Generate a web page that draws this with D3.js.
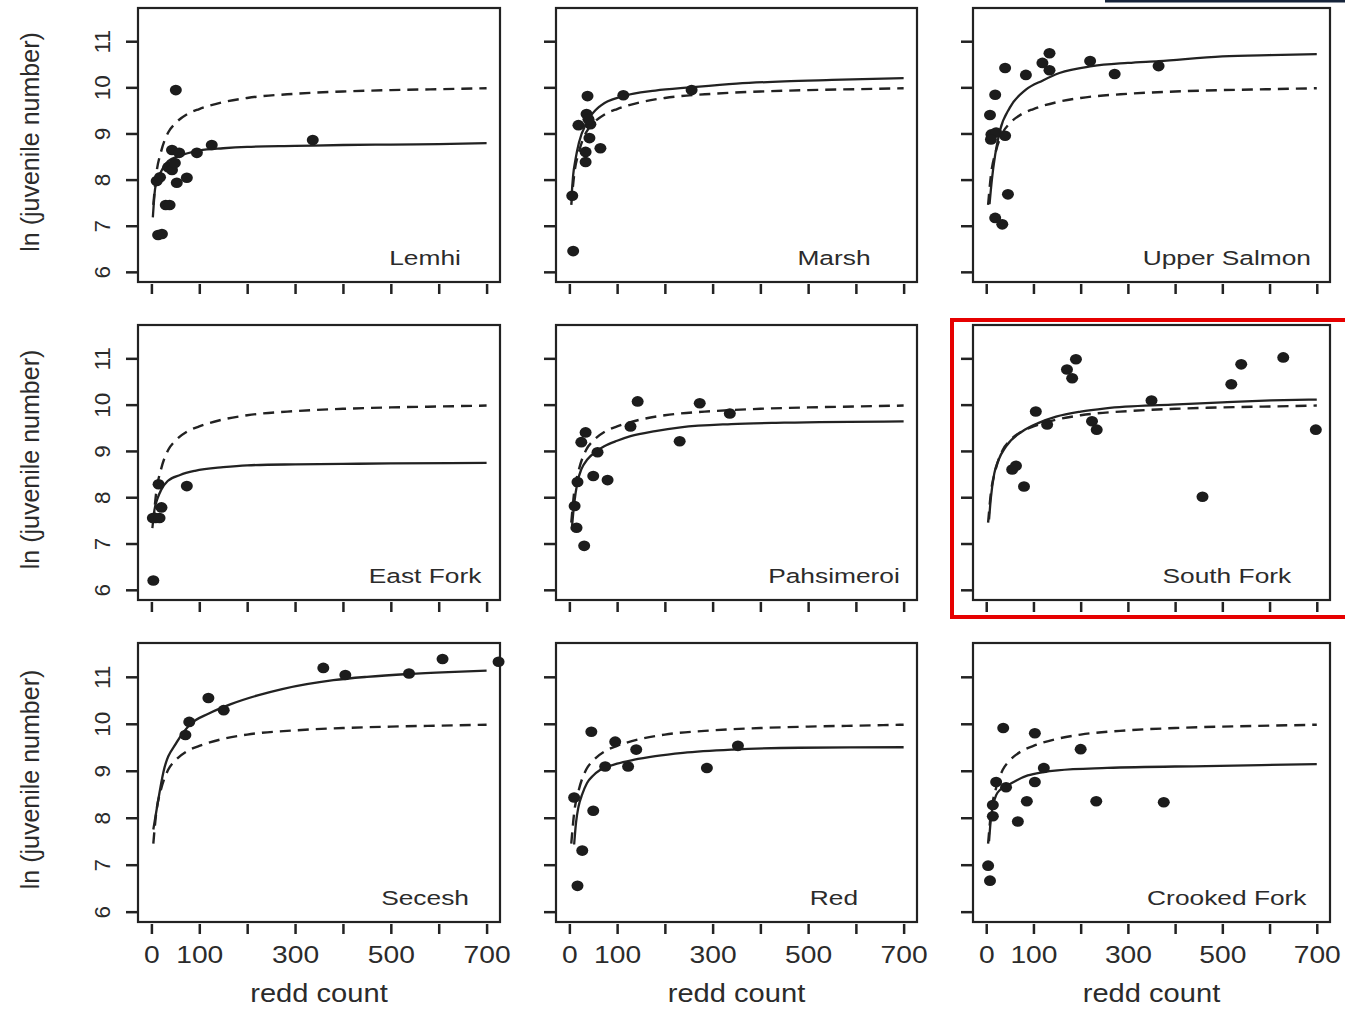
<!DOCTYPE html>
<html><head><meta charset="utf-8">
<script src="https://cdn.jsdelivr.net/npm/d3@7"></script>
<style>body{margin:0;background:#fff}svg text{font-family:"Liberation Sans",Arial,Helvetica,sans-serif;fill:#2b2b2b}</style>
</head><body><svg id="chart" width="1345" height="1009"></svg>
<script>
// ---- data ----
const rivers = ["Lemhi","Marsh","Upper Salmon","East Fork","Pahsimeroi","South Fork","Secesh","Red","Crooked Fork"];
const xTicks = [0,100,200,300,400,500,600,700];
const xTickLabels = [0,100,300,500,700];
const yTicks = [6,7,8,9,10,11];
const xTitle = "redd count";
const yTitle = "ln (juvenile number)";

const lemhiPts = [[11,7.97],[18,8.05],[14,6.8],[22,6.82],[30,7.45],[38,7.45],[35,8.27],[43,8.21],[43,8.64],[49,8.36],[53,7.93],[58,8.58],[74,8.04],[95,8.58],[126,8.75],[51,9.94],[337,8.86]];
const marshPts = [[6,7.65],[8,6.45],[38,9.81],[113,9.83],[256,9.94],[19,9.18],[36,9.42],[44,9.2],[40,9.31],[42,8.9],[65,8.68],[34,8.6],[34,8.38]];
const upperSalmonPts = [[8,9.4],[19,9.84],[40,10.42],[84,10.27],[119,10.53],[134,10.74],[134,10.37],[220,10.57],[272,10.29],[365,10.46],[11,8.98],[21,9.02],[40,8.95],[10,8.87],[46,7.68],[19,7.17],[34,7.03]];
const eastForkPts = [[4,6.2],[3,7.55],[9,7.55],[17,7.55],[21,7.78],[15,8.28],[74,8.24]];
const pahsimeroiPts = [[11,7.81],[15,7.34],[31,6.95],[17,8.33],[25,9.19],[34,9.4],[59,8.97],[50,8.46],[80,8.37],[128,9.53],[143,10.07],[231,9.21],[273,10.03],[336,9.81]];
const southForkPts = [[55,8.6],[63,8.68],[80,8.23],[105,9.85],[129,9.57],[171,10.76],[182,10.57],[190,10.98],[224,9.64],[234,9.46],[350,10.09],[458,8.01],[519,10.44],[540,10.87],[629,11.02],[698,9.46]];
const seceshPts = [[71,9.76],[79,10.04],[119,10.55],[151,10.29],[359,11.19],[405,11.04],[538,11.07],[608,11.38],[725,11.32]];
const redPts = [[10,8.43],[27,7.3],[17,6.55],[46,9.83],[50,8.15],[75,9.09],[96,9.62],[123,9.09],[140,9.45],[288,9.06],[353,9.53]];
const crookedForkPts = [[4,6.98],[8,6.66],[14,8.03],[14,8.27],[21,8.76],[36,9.91],[42,8.65],[67,7.92],[86,8.35],[103,9.8],[103,8.76],[122,9.06],[200,9.46],[233,8.35],[376,8.33]];

const lemhiFit = [[3,7.18],[8,7.82],[15,8.05],[21,8.19],[35,8.4],[57,8.51],[100,8.63],[150,8.68],[200,8.71],[300,8.73],[400,8.75],[500,8.76],[600,8.77],[700,8.79]];
const marshFit = [[4,7.54],[8,8.1],[13,8.45],[20,8.8],[37,9.25],[65,9.6],[113,9.81],[180,9.93],[254,10.0],[350,10.08],[450,10.13],[550,10.16],[700,10.2]];
const upperSalmonFit = [[7,7.47],[12,8.0],[19,8.54],[29,9.06],[50,9.56],[84,9.95],[120,10.15],[155,10.31],[224,10.46],[300,10.53],[365,10.57],[500,10.67],[600,10.7],[700,10.72]];
const eastForkFit = [[2,7.33],[6,7.7],[13,7.98],[20,8.15],[34,8.35],[60,8.48],[91,8.57],[150,8.65],[200,8.69],[300,8.71],[400,8.72],[500,8.73],[700,8.74]];
const pahsimeroiFit = [[5,7.3],[10,7.85],[17,8.33],[25,8.6],[38,8.82],[55,8.98],[73,9.1],[100,9.22],[128,9.32],[180,9.43],[233,9.51],[339,9.58],[450,9.61],[700,9.64]];
const southForkFit = [[6,7.52],[10,8.0],[17,8.51],[25,8.78],[42,9.1],[76,9.42],[110,9.6],[148,9.74],[200,9.85],[253,9.92],[393,10.0],[500,10.05],[603,10.09],[700,10.11]];
const seceshFit = [[4,7.75],[11,8.18],[25,8.97],[53,9.61],[79,9.97],[120,10.22],[166,10.42],[220,10.6],[273,10.74],[380,10.93],[450,11.0],[537,11.06],[620,11.1],[700,11.13]];
const redFit = [[10,7.43],[14,7.9],[19,8.23],[27,8.5],[37,8.74],[50,8.9],[65,9.02],[100,9.15],[134,9.23],[180,9.31],[238,9.38],[342,9.45],[482,9.49],[700,9.5]];
const crookedForkFit = [[6,7.5],[10,7.99],[15,8.28],[21,8.48],[30,8.6],[46,8.69],[65,8.8],[88,8.9],[120,8.97],[151,9.01],[256,9.06],[466,9.1],[700,9.14]];
const overallFit = [[4,7.45],[10,8.1],[20,8.6],[35,9.02],[50,9.22],[75,9.42],[100,9.53],[150,9.68],[200,9.77],[300,9.86],[400,9.91],[500,9.94],[600,9.96],[700,9.98]];

const pointSets = [lemhiPts, marshPts, upperSalmonPts, eastForkPts, pahsimeroiPts, southForkPts, seceshPts, redPts, crookedForkPts];
const fitSets = [lemhiFit, marshFit, upperSalmonFit, eastForkFit, pahsimeroiFit, southForkFit, seceshFit, redFit, crookedForkFit];
const highlighted = "South Fork";

// ---- layout ----
const W = 1345, H = 1009;
const colL = [138, 556, 973], colR = [500, 917, 1330];
const rowT = [8, 325, 643], rowB = [282, 600, 922];
const labelFrac = [0.793, 0.77, 0.711];
const ink = "#222";

const svg = d3.select("#chart");
svg.append("rect").attr("width", W).attr("height", H).attr("fill", "#fff");

rivers.forEach((name, i) => {
  const r = Math.floor(i / 3), c = i % 3;
  const x = d3.scaleLinear().domain([-28, 728]).range([colL[c], colR[c]]);
  const y = d3.scaleLinear().domain([5.78, 11.72]).range([rowB[r], rowT[r]]);
  const g = svg.append("g");

  // x axis
  const xa = d3.axisBottom(x).tickValues(xTicks).tickSize(10).tickPadding(12)
    .tickFormat(d => (r === 2 && xTickLabels.includes(d)) ? d : "");
  const xg = g.append("g").attr("transform", `translate(0,${rowB[r] + 2})`).call(xa);
  xg.select(".domain").remove();
  xg.selectAll(".tick line").attr("stroke", ink).attr("stroke-width", 2.5);
  xg.selectAll(".tick text").attr("font-size", 23.5).attr("fill", "#2b2b2b")
    .attr("transform", "scale(1.2,1)");

  // y axis
  const ya = d3.axisLeft(y).tickValues(yTicks).tickSize(11).tickFormat(d => c === 0 ? d : "");
  const yg = g.append("g").attr("transform", `translate(${colL[c] - 1},0)`).call(ya);
  yg.select(".domain").remove();
  yg.selectAll(".tick line").attr("stroke", ink).attr("stroke-width", 2.5);
  yg.selectAll(".tick text").attr("font-size", 22.5).attr("fill", "#2b2b2b")
    .attr("x", null).attr("text-anchor", "middle").attr("dy", "0.35em")
    .attr("transform", `translate(${102 - (colL[c] - 1)},0) rotate(-90)`);

  // frame
  g.append("rect").attr("x", colL[c]).attr("y", rowT[r])
    .attr("width", colR[c] - colL[c]).attr("height", rowB[r] - rowT[r])
    .attr("fill", "none").attr("stroke", ink).attr("stroke-width", 2.2);

  const line = d3.line().x(d => x(d[0])).y(d => y(d[1])).curve(d3.curveMonotoneX);
  g.append("path").attr("d", line(overallFit)).attr("fill", "none")
    .attr("stroke", ink).attr("stroke-width", 2.4).attr("stroke-dasharray", "11,7");
  g.append("path").attr("d", line(fitSets[i])).attr("fill", "none")
    .attr("stroke", ink).attr("stroke-width", 2.3);

  g.selectAll("ellipse.pt").data(pointSets[i]).enter().append("ellipse")
    .attr("cx", d => x(d[0])).attr("cy", d => y(d[1]))
    .attr("rx", 6).attr("ry", 5.3).attr("fill", "#1c1c1c");

  // panel label
  const lx = colL[c] + labelFrac[c] * (colR[c] - colL[c]);
  g.append("text").text(name).attr("text-anchor", "middle").attr("font-size", 19.5)
    .attr("transform", `translate(${lx},${rowB[r] - 17}) scale(1.35,1)`);

  // titles
  if (c === 0) {
    g.append("text").text(yTitle).attr("text-anchor", "middle").attr("font-size", 25)
      .attr("dy", "0.35em")
      .attr("transform", `translate(30,${(rowT[r] + rowB[r]) / 2 - 3}) rotate(-90)`);
  }
  if (r === 2) {
    g.append("text").text(xTitle).attr("text-anchor", "middle").attr("font-size", 26)
      .attr("transform", `translate(${(colL[c] + colR[c]) / 2},1002) scale(1.12,1)`);
  }
  if (name === highlighted) {
    svg.append("rect").attr("x", colL[c] - 21).attr("y", rowT[r] - 5)
      .attr("width", 420).attr("height", rowB[r] - rowT[r] + 22)
      .attr("fill", "none").attr("stroke", "#e60000").attr("stroke-width", 4);
  }
});

// scan artefact strip at top right
svg.append("rect").attr("x", 1105).attr("y", 0).attr("width", 240).attr("height", 2.5).attr("fill", "#15233a");
</script></body></html>
